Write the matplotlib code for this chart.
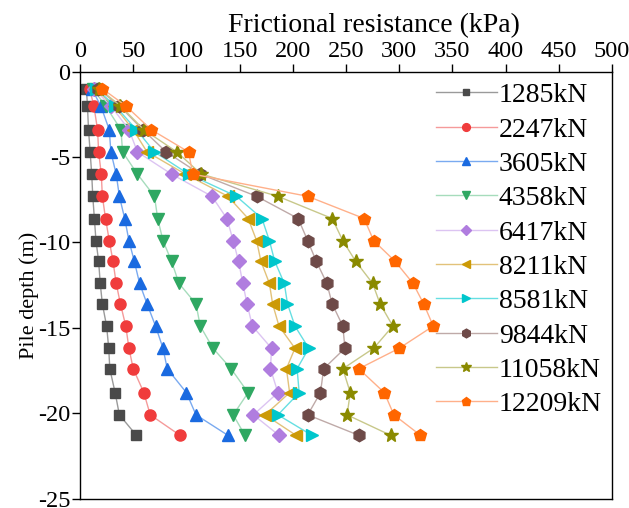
import matplotlib
matplotlib.use('Agg')
import matplotlib.pyplot as plt

plt.rcParams['font.family'] = ['Liberation Serif', 'DejaVu Serif']
plt.rcParams['axes.unicode_minus'] = False

# Pile depth of the measuring points (m)
depth = [-1.0, -2.0, -3.4, -4.7, -6.0, -7.3, -8.6, -9.9, -11.1, -12.4,
         -13.6, -14.9, -16.2, -17.4, -18.8, -20.1, -21.3]

# Frictional resistance (kPa) for each load step
f_1285 = [6, 7, 8, 9.5, 11, 12, 13.5, 15, 17.5, 19, 21, 25, 27, 28, 33, 37, 53]
f_2247 = [9, 13, 16.5, 17.5, 20, 21, 24, 27.5, 31, 34, 38, 43, 46, 50, 60, 66, 94]
f_3605 = [11, 19.5, 27.5, 29, 34, 37, 42, 46, 51, 56, 63, 71, 78, 82, 100, 109, 139]
f_4358 = [12, 24, 38.5, 40, 54, 70, 73, 78, 86, 93, 109, 113, 125, 142, 158, 144, 155]
f_6417 = [13, 29, 46, 54, 86, 124, 138, 144, 149, 153, 157, 162, 180, 179, 186, 163, 187]
f_8211 = [14, 32, 50, 63, 99, 139, 158, 166, 170, 178, 181, 187, 202, 194, 197, 174, 203]
f_8581 = [15, 33, 53, 70, 102, 147, 171, 178, 183, 192, 195, 202, 215, 204, 206, 186, 218]
f_9844 = [17, 37, 59, 81, 113, 166, 205, 214, 222, 232, 237, 247, 249, 229, 226, 214, 262]
f_11058 = [18, 38, 60, 91, 114, 186, 237, 247, 259, 275, 282, 294, 276, 247, 254, 251, 292]
f_12209 = [21, 43, 67, 102, 106, 214, 267, 276, 296, 313, 323, 332, 300, 262, 286, 295, 320]

labels = ['1285kN', '2247kN', '3605kN', '4358kN', '6417kN',
          '8211kN', '8581kN', '9844kN', '11058kN', '12209kN']
series = [f_1285, f_2247, f_3605, f_4358, f_6417,
          f_8211, f_8581, f_9844, f_11058, f_12209]

marker_colors = ['#4a4a4a', '#f03c3c', '#1a6ae0', '#2fa862', '#b07ddf',
                 '#cc9a06', '#00c6cc', '#6e4a48', '#8a8a00', '#ff6600']
line_colors = ['#9a9a9a', '#f59a9a', '#7aaaf0', '#a6dcbc', '#dcc4f2',
               '#e2c27a', '#66dfe2', '#bfaaa8', '#c8c88a', '#ffb08a']
markers = ['s', 'o', '^', 'v', 'D', '<', '>', 'h', '*', 'p']
sizes = [7, 8, 9, 9, 7, 9, 9, 9, 10, 9]

fig = plt.figure(figsize=(6.29, 5.08), dpi=100)
ax = fig.add_axes([0.1272, 0.0187, 0.8458, 0.8402])

for vals, lab, mc, lc, mk, ms in zip(series, labels, marker_colors,
                                     line_colors, markers, sizes):
    ax.plot(vals, depth, color=lc, linewidth=1.0, marker=mk, markersize=ms,
            markerfacecolor=mc, markeredgecolor=mc, label=lab)

ax.set_xlim(0, 500)
ax.set_ylim(-25, 0)
ax.set_xticks(range(0, 501, 50))
ax.set_yticks(range(-25, 1, 5))
ax.xaxis.tick_top()
ax.xaxis.set_label_position('top')
ax.tick_params(axis='x', which='both', bottom=False, top=True, direction='out',
               length=6, width=1, labelsize=17.5, pad=1)
ax.tick_params(axis='y', which='both', right=False, direction='out',
               length=6, width=1, labelsize=17.5, pad=1)
ax.set_xlabel('Frictional resistance (kPa)', fontsize=20, labelpad=0)
ax.xaxis.set_label_coords(0.553, 1.093)
ax.set_ylabel('Pile depth (m)', fontsize=16)
ax.yaxis.set_label_coords(-0.078, 0.475)
for sp in ax.spines.values():
    sp.set_linewidth(1.0)

ax.legend(loc='upper left', bbox_to_anchor=(0.669, 0.974), frameon=False,
          fontsize=20, borderpad=0, borderaxespad=0, handlelength=2.2,
          handletextpad=0.07, labelspacing=0.32, markerscale=0.7)

fig.savefig('out.png', dpi=100)
